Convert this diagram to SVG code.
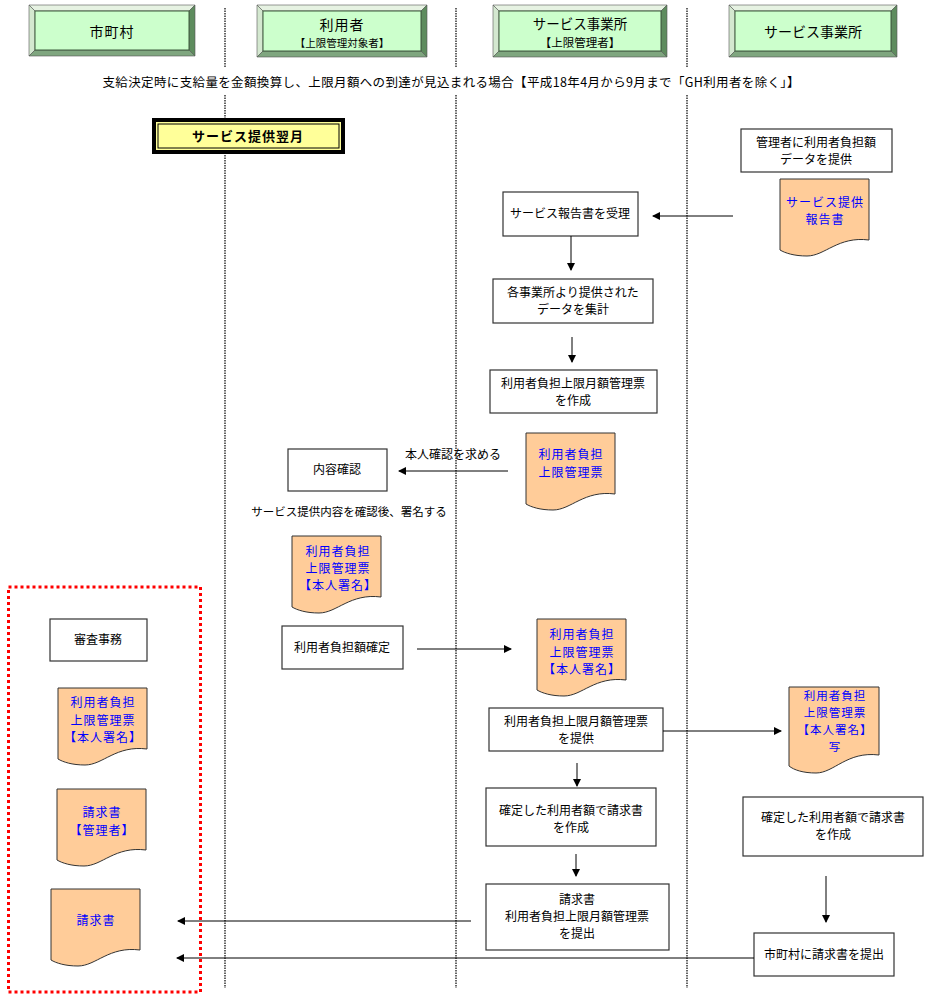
<svg xmlns="http://www.w3.org/2000/svg" width="929" height="998" viewBox="0 0 929 998">
<style>
text{font-family:"Noto Sans CJK JP","Liberation Sans",sans-serif;fill:#000;text-anchor:middle}
.t{font-size:12px}
.d{font-size:12px;fill:#0000FF;letter-spacing:1px}
.box{fill:#fff;stroke:#333;stroke-width:1.2}
.doc{fill:#FFCC99;stroke:#333;stroke-width:1}
.lane{stroke:#333;stroke-width:1.5;stroke-dasharray:1.5 1}
.c{stroke:#000;stroke-width:1;fill:none}
.hf{fill:#CCFFCC;stroke:#3d5a3d;stroke-width:1}
.bt{fill:#E6F2E2;stroke:#555;stroke-width:.6}
.bl{fill:#D4E8D0;stroke:#555;stroke-width:.6}
.br{fill:#5E8C5E;stroke:#555;stroke-width:.6}
.bb{fill:#7FA67F;stroke:#555;stroke-width:.6}
</style>
<defs>
<marker id="ah" markerWidth="8" markerHeight="8" refX="7" refY="4" orient="auto" markerUnits="userSpaceOnUse">
<path d="M0,0 L8,4 L0,8 Z" fill="#000"/>
</marker>
<path id="doc" d="M0,0 H89 V61 C58,57 45,77 27,77 C14,77 5,74 0,71 Z"/>
<path id="docT" d="M0,0 H90 V68 C58,64 45,86 27,86 C14,86 5,83 0,79 Z"/>
</defs>
<rect width="929" height="998" fill="#fff"/>

<g id="lanes">
<line class="lane" x1="225" y1="8" x2="225" y2="68"/>
<line class="lane" x1="225" y1="95" x2="225" y2="988"/>
<line class="lane" x1="456" y1="8" x2="456" y2="68"/>
<line class="lane" x1="456" y1="95" x2="456" y2="988"/>
<line class="lane" x1="687" y1="8" x2="687" y2="68"/>
<line class="lane" x1="687" y1="95" x2="687" y2="988"/>
</g>

<g id="h1">
<polygon class="bt" points="29,5 195,5 189,11 35,11"/>
<polygon class="bl" points="29,5 35,11 35,50 29,56"/>
<polygon class="br" points="195,5 195,56 189,50 189,11"/>
<polygon class="bb" points="29,56 35,50 189,50 195,56"/>
<rect class="hf" x="35" y="11" width="154" height="39"/>
<text x="112" y="37" style="font-size:14px;letter-spacing:1px">市町村</text>
</g>
<g id="h2">
<polygon class="bt" points="257,5 427,5 421,11 263,11"/>
<polygon class="bl" points="257,5 263,11 263,51 257,57"/>
<polygon class="br" points="427,5 427,57 421,51 421,11"/>
<polygon class="bb" points="257,57 263,51 421,51 427,57"/>
<rect class="hf" x="263" y="11" width="158" height="40"/>
<text x="342" y="30" style="font-size:14px;letter-spacing:1px">利用者</text>
<text x="342" y="47" style="font-size:10.5px">【上限管理対象者】</text>
</g>
<g id="h3">
<polygon class="bt" points="493,5 667,5 661,11 499,11"/>
<polygon class="bl" points="493,5 499,11 499,51 493,57"/>
<polygon class="br" points="667,5 667,57 661,51 661,11"/>
<polygon class="bb" points="493,57 499,51 661,51 667,57"/>
<rect class="hf" x="499" y="11" width="162" height="40"/>
<text x="580" y="29" style="font-size:13.5px">サービス事業所</text>
<text x="580" y="47" style="font-size:11.5px">【上限管理者】</text>
</g>
<g id="h4">
<polygon class="bt" points="729,5 897,5 891,11 735,11"/>
<polygon class="bl" points="729,5 735,11 735,51 729,57"/>
<polygon class="br" points="897,5 897,57 891,51 891,11"/>
<polygon class="bb" points="729,57 735,51 891,51 897,57"/>
<rect class="hf" x="735" y="11" width="156" height="40"/>
<text x="813" y="37" style="font-size:14px">サービス事業所</text>
</g>

<g id="title">
<text x="451" y="87" style="font-size:12.5px" textLength="697" lengthAdjust="spacing">支給決定時に支給量を金額換算し、上限月額への到達が見込まれる場合【平成18年4月から9月まで「GH利用者を除く」】</text>
</g>

<g id="month">
<rect x="154" y="120" width="189" height="32" fill="#FFFF99" stroke="#000" stroke-width="4"/>
<rect x="158" y="124" width="181" height="24" fill="none" stroke="#000" stroke-width="1"/>
<text x="248" y="141" style="font-size:13px;font-weight:bold;letter-spacing:1px">サービス提供翌月</text>
</g>

<g id="n_provide">
<rect class="box" x="741" y="129" width="151" height="43"/>
<text class="t" x="816" y="147">管理者に利用者負担額</text>
<text class="t" x="816" y="164">データを提供</text>
</g>
<g id="d_report">
<use href="#doc" class="doc" x="780" y="179"/>
<text class="d" x="825" y="207">サービス提供</text>
<text class="d" x="825" y="224">報告書</text>
</g>
<g id="n_receive">
<rect class="box" x="503" y="192" width="135" height="44"/>
<text class="t" x="570" y="218">サービス報告書を受理</text>
</g>
<g id="n_sum">
<rect class="box" x="493" y="279" width="160" height="44"/>
<text class="t" x="573" y="297">各事業所より提供された</text>
<text class="t" x="573" y="314">データを集計</text>
</g>
<g id="n_make">
<rect class="box" x="490" y="370" width="167" height="43"/>
<text class="t" x="573" y="388">利用者負担上限月額管理票</text>
<text class="t" x="573" y="405">を作成</text>
</g>
<g id="d_ticket">
<use href="#doc" class="doc" x="526" y="433"/>
<text class="d" x="571" y="459">利用者負担</text>
<text class="d" x="571" y="477">上限管理票</text>
</g>
<g id="n_check">
<rect class="box" x="288" y="449" width="99" height="42"/>
<text class="t" x="337" y="474">内容確認</text>
</g>
<g id="d_signed1">
<use href="#doc" class="doc" x="292" y="536"/>
<text class="d" x="338" y="556">利用者負担</text>
<text class="d" x="338" y="573">上限管理票</text>
<text class="d" x="338" y="590">【本人署名】</text>
</g>
<g id="n_confirm">
<rect class="box" x="282" y="626" width="121" height="43"/>
<text class="t" x="342" y="652">利用者負担額確定</text>
</g>
<g id="d_signed2">
<use href="#doc" class="doc" x="537" y="619"/>
<text class="d" x="582" y="639">利用者負担</text>
<text class="d" x="582" y="657">上限管理票</text>
<text class="d" x="582" y="674">【本人署名】</text>
</g>
<g id="n_give">
<rect class="box" x="489" y="708" width="174" height="43"/>
<text class="t" x="576" y="726">利用者負担上限月額管理票</text>
<text class="t" x="576" y="743">を提供</text>
</g>
<g id="d_copy">
<use href="#docT" class="doc" x="789" y="687"/>
<text class="d" x="835" y="700" style="font-size:11.5px">利用者負担</text>
<text class="d" x="835" y="717" style="font-size:11.5px">上限管理票</text>
<text class="d" x="835" y="734" style="font-size:11.5px">【本人署名】</text>
<text class="d" x="835" y="751" style="font-size:11.5px">写</text>
</g>
<g id="n_bill1">
<rect class="box" x="486" y="788" width="170" height="58"/>
<text class="t" x="571" y="815">確定した利用者額で請求書</text>
<text class="t" x="571" y="832">を作成</text>
</g>
<g id="n_bill2">
<rect class="box" x="743" y="797" width="180" height="59"/>
<text class="t" x="833" y="822">確定した利用者額で請求書</text>
<text class="t" x="833" y="839">を作成</text>
</g>
<g id="n_submit1">
<rect class="box" x="486" y="884" width="183" height="66"/>
<text class="t" x="577" y="904">請求書</text>
<text class="t" x="577" y="921">利用者負担上限月額管理票</text>
<text class="t" x="577" y="938">を提出</text>
</g>
<g id="n_submit2">
<rect class="box" x="754" y="933" width="140" height="43"/>
<text class="t" x="824" y="959">市町村に請求書を提出</text>
</g>

<g id="n_audit">
<rect class="box" x="50" y="619" width="97" height="42"/>
<text class="t" x="98" y="644">審査事務</text>
</g>
<g id="d_l1">
<use href="#doc" class="doc" x="58" y="688"/>
<text class="d" x="103" y="707">利用者負担</text>
<text class="d" x="103" y="725">上限管理票</text>
<text class="d" x="103" y="742">【本人署名】</text>
</g>
<g id="d_l2">
<use href="#doc" class="doc" x="57" y="789"/>
<text class="d" x="102" y="817">請求書</text>
<text class="d" x="102" y="835">【管理者】</text>
</g>
<g id="d_l3">
<use href="#doc" class="doc" x="51" y="889"/>
<text class="d" x="96" y="925">請求書</text>
</g>

<g id="connectors">
<line class="c" x1="733" y1="216" x2="653" y2="216" marker-end="url(#ah)"/>
<line class="c" x1="571" y1="236" x2="571" y2="270" marker-end="url(#ah)"/>
<line class="c" x1="572" y1="337" x2="572" y2="362" marker-end="url(#ah)"/>
<line class="c" x1="508" y1="471" x2="399" y2="471" marker-end="url(#ah)"/>
<text class="t" x="453" y="459">本人確認を求める</text>
<text class="t" x="349" y="516" style="font-size:11.5px">サービス提供内容を確認後、署名する</text>
<line class="c" x1="417" y1="649" x2="511" y2="649" marker-end="url(#ah)"/>
<line class="c" x1="663" y1="731" x2="781" y2="731" marker-end="url(#ah)"/>
<line class="c" x1="577" y1="763" x2="577" y2="786" marker-end="url(#ah)"/>
<line class="c" x1="576" y1="854" x2="576" y2="876" marker-end="url(#ah)"/>
<line class="c" x1="826" y1="876" x2="826" y2="922" marker-end="url(#ah)"/>
<line class="c" x1="471" y1="921" x2="178" y2="921" marker-end="url(#ah)"/>
<line class="c" x1="754" y1="958" x2="177" y2="958" marker-end="url(#ah)"/>
</g>

<rect id="audit_frame" x="8.5" y="587" width="192" height="405" fill="none" stroke="#FF0000" stroke-width="3" stroke-dasharray="3 3"/>
</svg>
